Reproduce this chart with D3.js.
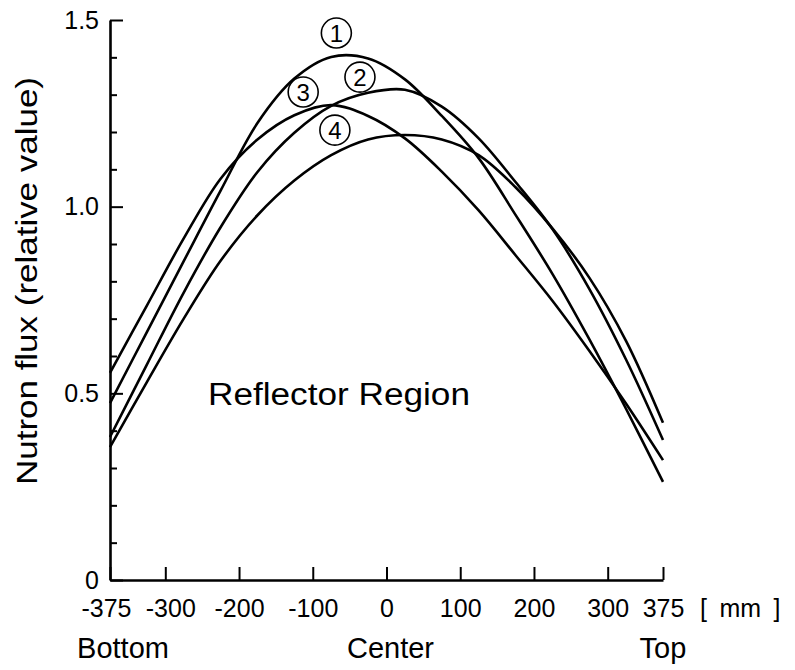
<!DOCTYPE html>
<html>
<head>
<meta charset="utf-8">
<script src="https://cdn.jsdelivr.net/npm/d3@7"></script>
<style>
  body { margin: 0; background: #fff; }
  text { font-family: "Liberation Sans", Arial, sans-serif; fill: #000; }
</style>
</head>
<body>
<div id="chart"></div>
<script>
// height position in the core [mm], every 50 mm
const positions = [-375, -325, -275, -225, -175, -125, -75, -25, 25, 75, 125, 175, 225, 275, 325, 375];

// relative neutron flux of the four curves at those positions
const flux1 = [0.474, 0.664, 0.854, 1.043, 1.224, 1.343, 1.401, 1.397, 1.341, 1.243, 1.130, 0.978, 0.820, 0.645, 0.458, 0.263];
const flux2 = [0.383, 0.577, 0.770, 0.945, 1.093, 1.198, 1.270, 1.305, 1.313, 1.268, 1.183, 1.066, 0.940, 0.780, 0.590, 0.375];
const flux3 = [0.555, 0.735, 0.915, 1.075, 1.180, 1.245, 1.272, 1.243, 1.183, 1.094, 0.990, 0.870, 0.748, 0.614, 0.472, 0.321];
const flux4 = [0.356, 0.530, 0.700, 0.855, 0.977, 1.070, 1.138, 1.180, 1.192, 1.180, 1.138, 1.052, 0.942, 0.810, 0.640, 0.421];

const curveNames = ["1", "2", "3", "4"];
// where the circled numbers sit (mm, flux)
const labelPos  = [-68, -36, -113, -70];
const labelFlux = [1.465, 1.347, 1.307, 1.205];

const yMajor = [0, 0.5, 1.0, 1.5];
const yMajorLabels = ["0", "0.5", "1.0", "1.5"];
const yMinor = [0.1, 0.2, 0.3, 0.4, 0.6, 0.7, 0.8, 0.9, 1.1, 1.2, 1.3, 1.4];
const xTicks = [-375, -300, -200, -100, 0, 100, 200, 300, 375];
const xTickLabels = ["-375", "-300", "-200", "-100", "0", "100", "200", "300", "375"];

const width = 795, height = 670;
const margin = { top: 20, right: 132, bottom: 90, left: 110 };

const svg = d3.select("#chart").append("svg")
  .attr("width", width)
  .attr("height", height);

const x = d3.scaleLinear().domain([-375, 375]).range([margin.left, width - margin.right]);
const y = d3.scaleLinear().domain([0, 1.5]).range([height - margin.bottom, margin.top]);

// y axis, ticks pointing inward
const yAxis = svg.append("g")
  .attr("transform", `translate(${x(-375)},0)`)
  .call(d3.axisLeft(y).tickValues(yMajor).tickSize(-13).tickSizeOuter(0).tickPadding(11)
    .tickFormat((d, i) => yMajorLabels[i]));
svg.append("g")
  .attr("transform", `translate(${x(-375)},0)`)
  .call(d3.axisLeft(y).tickValues(yMinor).tickSize(-7).tickSizeOuter(0).tickFormat(""))
  .select(".domain").remove();

// x axis
const xAxis = svg.append("g")
  .attr("transform", `translate(0,${y(0)})`)
  .call(d3.axisBottom(x).tickValues(xTicks).tickSize(-13).tickSizeOuter(0).tickPadding(19)
    .tickFormat((d, i) => xTickLabels[i]));

svg.selectAll(".domain").attr("stroke", "#000").attr("stroke-width", 2.6);
svg.selectAll(".tick line").attr("stroke", "#000").attr("stroke-width", 2);
svg.selectAll(".tick text").attr("font-size", 25).attr("fill", "#000")
  .style("font-family", '"Liberation Sans", Arial, sans-serif');
// the first two bottom labels sit a bit apart, as in the figure
xAxis.selectAll(".tick text").attr("dx", d => d === -375 ? -4 : d === -300 ? 5 : 0);

// curves
const line = d3.line()
  .x(d => x(d[0]))
  .y(d => y(d[1]))
  .curve(d3.curveCatmullRom.alpha(0.5));

const series = [flux1, flux2, flux3, flux4].map(f => d3.zip(positions, f));

svg.append("g").selectAll("path")
  .data(series)
  .join("path")
    .attr("d", line)
    .attr("fill", "none")
    .attr("stroke", "#000")
    .attr("stroke-width", 2.6)
    .attr("stroke-linejoin", "round");

// circled curve numbers
const tags = svg.append("g").selectAll("g")
  .data(curveNames)
  .join("g")
    .attr("transform", (d, i) => `translate(${x(labelPos[i])},${y(labelFlux[i])})`);
tags.append("circle")
  .attr("r", 15)
  .attr("fill", "#fff")
  .attr("stroke", "#000")
  .attr("stroke-width", 1.6);
tags.append("text")
  .attr("text-anchor", "middle")
  .attr("dy", "0.36em")
  .attr("font-size", 24)
  .text(d => d);

// texts
svg.append("text")
  .attr("transform", `translate(37,281) rotate(-90)`)
  .attr("text-anchor", "middle")
  .attr("font-size", 30)
  .attr("textLength", 408)
  .attr("lengthAdjust", "spacingAndGlyphs")
  .text("Nutron flux (relative value)");

svg.append("text")
  .attr("x", 208).attr("y", 405)
  .attr("font-size", 31)
  .attr("textLength", 262)
  .attr("lengthAdjust", "spacingAndGlyphs")
  .text("Reflector Region");

svg.append("text")
  .attr("x", 700).attr("y", 617)
  .attr("font-size", 25)
  .text("[\u2002mm\u2002]");

svg.append("text").attr("x", 123).attr("y", 658)
  .attr("text-anchor", "middle").attr("font-size", 29).text("Bottom");
svg.append("text").attr("x", x(0) + 4).attr("y", 658)
  .attr("text-anchor", "middle").attr("font-size", 29).text("Center");
svg.append("text").attr("x", x(375)).attr("y", 658)
  .attr("text-anchor", "middle").attr("font-size", 29).text("Top");
</script>
</body>
</html>
